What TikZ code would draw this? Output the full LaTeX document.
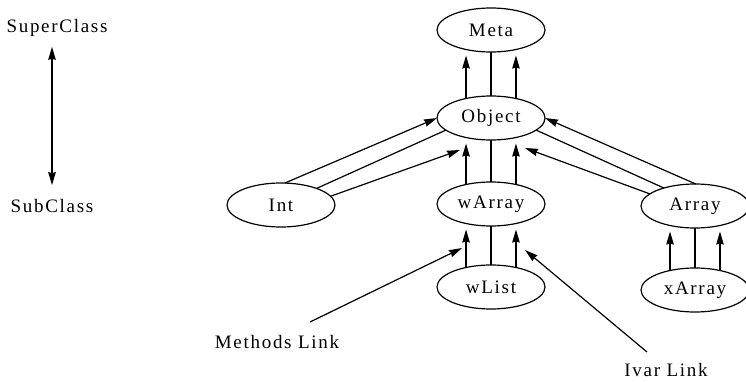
\documentclass[tikz,border=0pt]{standalone}
\usepackage{fontspec}
\setmainfont{Liberation Serif}[LetterSpace=9]
\usetikzlibrary{arrows.meta,calc,shapes.geometric}
\begin{document}
\begin{tikzpicture}[x=1pt,y=-1pt,
  cls/.style={ellipse,draw,line width=1.2pt,minimum width=108pt,minimum height=44pt,inner sep=0pt,outer sep=0pt,font=\fontsize{19}{21}\selectfont},
  lbl/.style={inner sep=0pt,font=\fontsize{19}{21}\selectfont},
  link/.style={line width=1.2pt},
  tip/.tip={Stealth[length=13pt,width=7.5pt,inset=1pt]},
  arr/.style={link,-tip},
  varr/.style={arr,shorten >=6pt},
]
\useasboundingbox (0,0) rectangle (746,382);
% classes
\node[cls] (meta)   at (491,30)  {Meta};
\node[cls] (obj)    at (491,118) {Object};
\node[cls] (int)    at (281,205) {Int};
\node[cls] (warray) at (491,204) {wArray};
\node[cls] (array)  at (695,206) {Array};
\node[cls] (wlist)  at (491,287) {wList};
\node[cls] (xarray) at (695,290) {xArray};
% legend
\node[lbl] (super) at (57,28)  {SuperClass};
\node[lbl] (sub)   at (52,206) {SubClass};
\draw[link,tip-tip,shorten <=14pt,shorten >=10pt] (sub.north) -- (sub.north |- super.south);
% Object -> Meta
\draw[varr] (obj.142) -- (meta.218);
\draw[link] (obj.north) -- (meta.south);
\draw[varr] (obj.38) -- (meta.322);
% wArray -> Object
\draw[varr] (warray.142) -- (obj.218);
\draw[link] (warray.north) -- (obj.south);
\draw[varr] (warray.38) -- (obj.322);
% wList -> wArray
\draw[varr] (wlist.142) -- (warray.218);
\draw[link] (wlist.north) -- (warray.south);
\draw[varr] (wlist.38) -- (warray.322);
% xArray -> Array
\draw[varr] (xarray.142) -- (array.218);
\draw[link] (xarray.north) -- (array.south);
\draw[varr] (xarray.38) -- (array.322);
% Int -> Object
\draw[arr]  (int.80) -- (obj.west);
\draw[link] (int.25) -- (obj.195);
\draw[arr]  (int.10) -- ($(obj)+(-31,32)$);
% Array -> Object
\draw[arr]  (array.88) -- (obj.east);
\draw[link] (array.150) -- (obj.-15);
\draw[arr]  (array.165) -- ($(obj)+(34,30)$);
% link labels
\node[lbl] (methods) at (277,342) {Methods Link};
\node[lbl] (ivar)    at (666,370) {Ivar Link};
\coordinate (mstart) at (310,322);
\coordinate (mtip)   at (462,248);
\coordinate (istart) at (647,352);
\coordinate (itip)   at (525,250);
\draw[arr] (mstart) -- (mtip);
\draw[arr] (istart) -- (itip);
\end{tikzpicture}
\end{document}
